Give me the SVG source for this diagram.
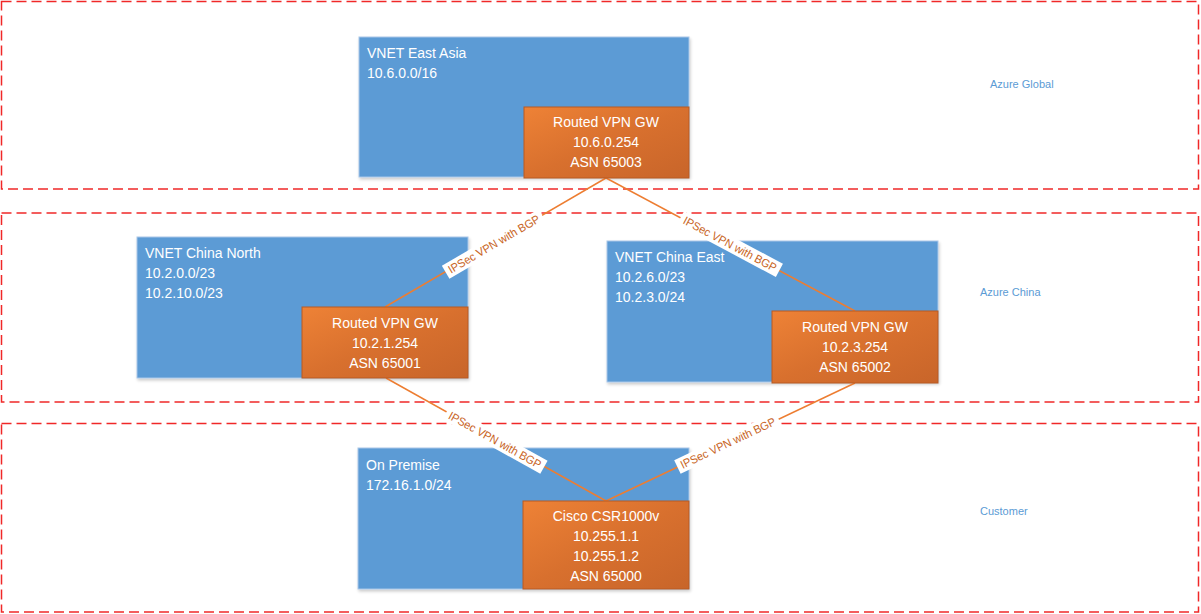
<svg xmlns="http://www.w3.org/2000/svg" width="1201" height="614" viewBox="0 0 1201 614">
<style>
.zone{fill:none;stroke:#f02828;stroke-width:1.5;stroke-dasharray:10 5}
.zl{font-family:"Liberation Sans",Arial,sans-serif;font-size:11px;fill:#5b9bd5}
.vnet{fill:#5b9bd5;stroke:#a9c6e8;stroke-width:1;filter:url(#sh)}
.gw{fill:url(#og);stroke:#b85a22;stroke-width:1}
.t{font-family:"Liberation Sans",Arial,sans-serif;font-size:14px;fill:#ffffff}
.tc{text-anchor:middle}
.conn{stroke:#ed7d31;stroke-width:1.5;fill:none}
.lb{fill:#ffffff}
.lt{font-family:"Liberation Sans",Arial,sans-serif;font-size:11.5px;fill:#c8641e;text-anchor:middle}
</style>
<defs>
<linearGradient id="og" x1="0" y1="0" x2="1" y2="1">
<stop offset="0" stop-color="#ee8236"/>
<stop offset="0.5" stop-color="#d8702e"/>
<stop offset="1" stop-color="#c8652a"/>
</linearGradient>
<filter id="sh" x="-5%" y="-5%" width="110%" height="115%">
<feDropShadow dx="1" dy="2" stdDeviation="1.5" flood-color="#000" flood-opacity="0.2"/>
</filter>
</defs>
<rect width="1201" height="614" fill="#ffffff"/>
<g id="zones">
<rect class="zone" x="1.5" y="1.5" width="1197" height="187.5"/>
<rect class="zone" x="1.5" y="213" width="1197" height="189"/>
<rect class="zone" x="1.5" y="423.5" width="1197" height="188.5"/>
<text class="zl" x="990" y="88">Azure Global</text>
<text class="zl" x="980" y="296">Azure China</text>
<text class="zl" x="980" y="515">Customer</text>
</g>
<g id="vnet-east-asia">
<rect class="vnet" x="359" y="37" width="330" height="140"/>
<text class="t" x="367" y="58">VNET East Asia</text>
<text class="t" x="367" y="78">10.6.0.0/16</text>
</g>
<g id="vnet-china-north">
<rect class="vnet" x="137" y="237" width="331" height="141"/>
<text class="t" x="145" y="258">VNET China North</text>
<text class="t" x="145" y="278">10.2.0.0/23</text>
<text class="t" x="145" y="298">10.2.10.0/23</text>
</g>
<g id="vnet-china-east">
<rect class="vnet" x="607" y="241" width="331" height="141"/>
<text class="t" x="615" y="262">VNET China East</text>
<text class="t" x="615" y="282">10.2.6.0/23</text>
<text class="t" x="615" y="302">10.2.3.0/24</text>
</g>
<g id="on-premise">
<rect class="vnet" x="358" y="448" width="331" height="141"/>
<text class="t" x="366" y="470">On Premise</text>
<text class="t" x="366" y="490">172.16.1.0/24</text>
</g>
<g id="connectors">
<line class="conn" x1="606" y1="178" x2="385" y2="307"/>
<line class="conn" x1="606" y1="178" x2="855" y2="311"/>
<line class="conn" x1="386" y1="378" x2="606" y2="501"/>
<line class="conn" x1="855" y1="383" x2="606" y2="501"/>
<g transform="translate(494,244) rotate(-30.3)">
<rect class="lb" x="-56" y="-7.5" width="112" height="15"/>
<text class="lt" x="0" y="4" textLength="104" lengthAdjust="spacingAndGlyphs">IPSec VPN with BGP</text>
</g>
<g transform="translate(730,244) rotate(28.1)">
<rect class="lb" x="-56" y="-7.5" width="112" height="15"/>
<text class="lt" x="0" y="4" textLength="104" lengthAdjust="spacingAndGlyphs">IPSec VPN with BGP</text>
</g>
<g transform="translate(495,440) rotate(29.1)">
<rect class="lb" x="-56" y="-7.5" width="112" height="15"/>
<text class="lt" x="0" y="4" textLength="104" lengthAdjust="spacingAndGlyphs">IPSec VPN with BGP</text>
</g>
<g transform="translate(728,443) rotate(-25.4)">
<rect class="lb" x="-56" y="-7.5" width="112" height="15"/>
<text class="lt" x="0" y="4" textLength="104" lengthAdjust="spacingAndGlyphs">IPSec VPN with BGP</text>
</g>
</g>
<g id="gw-east-asia">
<rect class="gw" x="524" y="107" width="165" height="71"/>
<text class="t tc" x="606" y="127">Routed VPN GW</text>
<text class="t tc" x="606" y="147">10.6.0.254</text>
<text class="t tc" x="606" y="167">ASN 65003</text>
</g>
<g id="gw-china-north">
<rect class="gw" x="302" y="307" width="166" height="71"/>
<text class="t tc" x="385" y="328">Routed VPN GW</text>
<text class="t tc" x="385" y="348">10.2.1.254</text>
<text class="t tc" x="385" y="368">ASN 65001</text>
</g>
<g id="gw-china-east">
<rect class="gw" x="772" y="311" width="166" height="72"/>
<text class="t tc" x="855" y="332">Routed VPN GW</text>
<text class="t tc" x="855" y="352">10.2.3.254</text>
<text class="t tc" x="855" y="372">ASN 65002</text>
</g>
<g id="cisco-csr1000v">
<rect class="gw" x="523" y="501" width="166" height="88"/>
<text class="t tc" x="606" y="521">Cisco CSR1000v</text>
<text class="t tc" x="606" y="541">10.255.1.1</text>
<text class="t tc" x="606" y="561">10.255.1.2</text>
<text class="t tc" x="606" y="581">ASN 65000</text>
</g>
</svg>
